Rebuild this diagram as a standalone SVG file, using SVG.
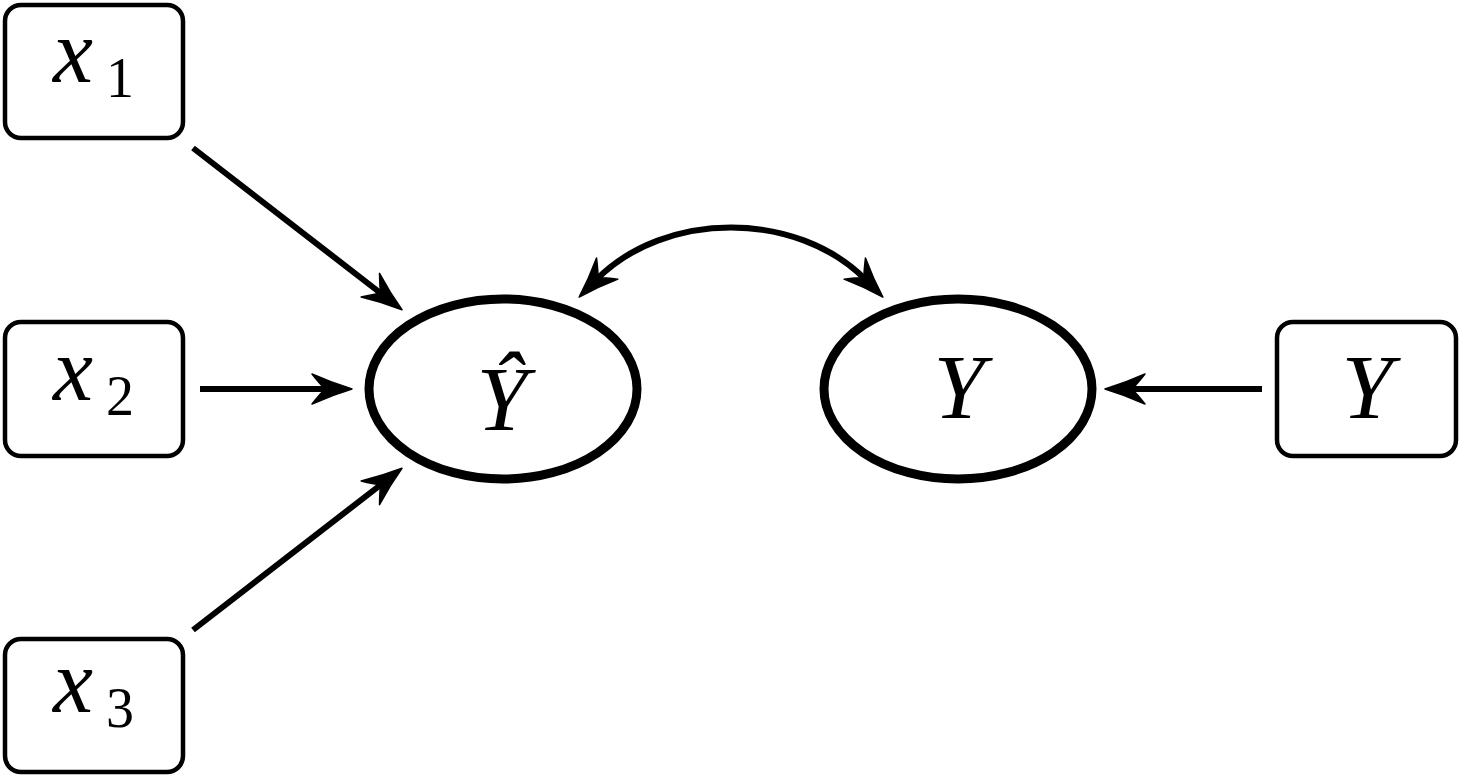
<svg xmlns="http://www.w3.org/2000/svg" width="1462" height="779" viewBox="0 0 1462 779">
  <style>
    .box { fill: #fff; stroke: #000; stroke-width: 4.5; }
    .ell { fill: #fff; stroke: #000; stroke-width: 9; }
    .edge { fill: none; stroke: #000; stroke-width: 6; }
    .math { font-family: "Liberation Serif", "Times New Roman", Times, serif; font-style: italic; font-size: 90px; fill: #000; }
    .sub { font-family: "Liberation Serif", "Times New Roman", Times, serif; font-style: normal; font-size: 56px; fill: #000; }
    .big { font-family: "Liberation Serif", "Times New Roman", Times, serif; font-style: italic; font-size: 92px; fill: #000; text-anchor: middle; }
  </style>
  <defs>
    <!-- stealth-style arrowhead: tip at x=40, barbs at x=0, notch at x=13 -->
    <marker id="head" markerUnits="userSpaceOnUse" markerWidth="46" markerHeight="36" viewBox="-2 -18 46 36" refX="16" refY="0" orient="auto-start-reverse">
      <path d="M40,0 Q20,-6 0,-15 Q8,-5 13,0 Q8,5 0,15 Q20,6 40,0 Z" fill="#000" stroke="#000" stroke-width="1.5" stroke-linejoin="round"/>
    </marker>
  </defs>

  <rect width="1462" height="779" fill="#fff"/>

  <!-- connectors -->
  <g id="connectors">
    <line class="edge" x1="193" y1="148" x2="383" y2="295" marker-end="url(#head)"/>
    <line class="edge" x1="200" y1="389" x2="328" y2="389" marker-end="url(#head)"/>
    <line class="edge" x1="193" y1="630" x2="383" y2="483" marker-end="url(#head)"/>
    <line class="edge" x1="1262" y1="389" x2="1129" y2="389" marker-end="url(#head)"/>
    <path class="edge" d="M596,280 C665,210 797,210 866,280" marker-start="url(#head)" marker-end="url(#head)"/>
  </g>

  <!-- input boxes -->
  <g id="x1">
    <rect class="box" x="5" y="5" width="178" height="133" rx="16"/>
    <text class="math" x="53" y="82">x</text>
    <text class="sub" x="106" y="97">1</text>
  </g>
  <g id="x2">
    <rect class="box" x="5" y="322" width="178" height="134" rx="16"/>
    <text class="math" x="53" y="400">x</text>
    <text class="sub" x="106" y="415">2</text>
  </g>
  <g id="x3">
    <rect class="box" x="5" y="639" width="178" height="133" rx="16"/>
    <text class="math" x="53" y="712">x</text>
    <text class="sub" x="106" y="727">3</text>
  </g>

  <!-- predicted outcome -->
  <g id="yhat">
    <ellipse class="ell" cx="503" cy="389" rx="134" ry="90"/>
    <text class="big" x="502" y="430">Ŷ</text>
  </g>

  <!-- latent outcome -->
  <g id="ylatent">
    <ellipse class="ell" cx="958" cy="389" rx="134" ry="90"/>
    <text class="big" x="959" y="418">Y</text>
  </g>

  <!-- observed outcome -->
  <g id="yobs">
    <rect class="box" x="1277" y="322" width="179" height="134" rx="16"/>
    <text class="big" x="1367" y="418">Y</text>
  </g>
</svg>
